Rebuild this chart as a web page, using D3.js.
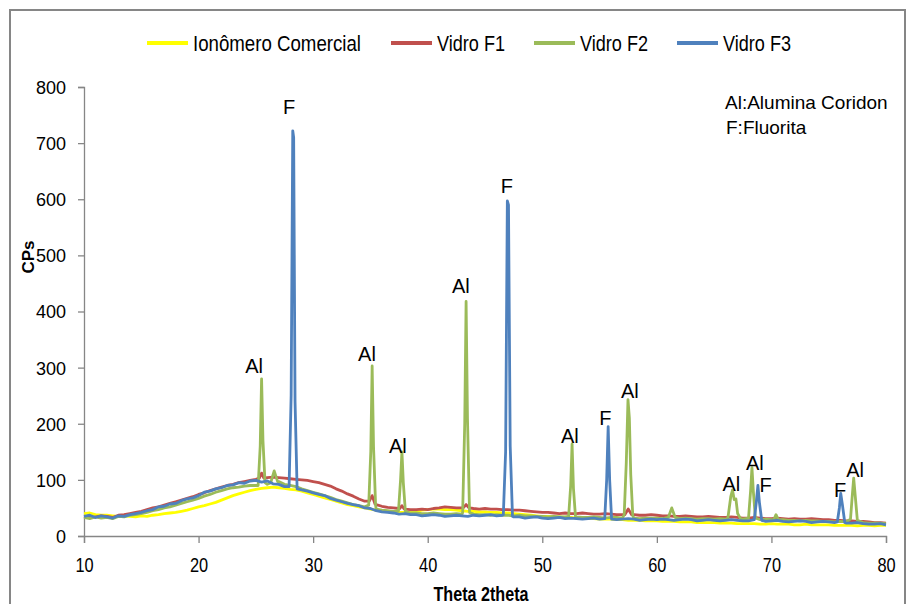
<!DOCTYPE html>
<html>
<head>
<meta charset="utf-8">
<script src="https://cdn.jsdelivr.net/npm/d3@7"></script>
<style>
  body { margin: 0; background: #fff; }
  svg { display: block; }
</style>
</head>
<body>
<div id="viz"></div>
<script>
// XRD patterns: ionomer vs. three glasses (F1, F2, F3)

// scan step of the background data (degrees 2theta)
const theta = d3.range(10, 80.001, 0.5)

// background counts, one value per 0.5 deg from 10 to 80
const ionomero = [
  40,41,38,37,37,36,35,36,35,34,
  36,35,37,38,40,41,42,44,46,49,
  52,54,57,60,64,68,72,75,78,81,
  83,85,86,87,86,85,83,82,80,77,
  74,71,68,65,62,59,56,54,52,50,
  48,46,45,44,43,42,42,43,44,46,
  47,48,48,47,47,46,45,44,44,43,
  43,42,42,41,41,40,39,38,37,36,
  35,35,34,34,33,33,32,32,31,31,
  30,30,30,29,29,28,28,28,27,27,
  27,26,26,26,25,25,25,24,24,24,
  24,23,23,23,22,22,22,22,21,21,
  22,21,21,21,20,20,21,20,20,20,
  20,19,19,19,19,18,19,19,18,19,
  19
]
const vidroF1 = [
  35,33,34,36,35,33,37,38,40,42,
  44,47,50,52,55,58,61,64,67,70,
  74,77,81,84,87,90,92,95,97,99,
  101,103,104,105,104,103,102,101,100,99,
  97,95,92,89,84,80,75,71,66,62,
  59,56,53,51,50,49,48,47,47,48,
  47,49,50,52,51,50,50,49,49,48,
  49,48,48,47,47,46,46,45,44,43,
  42,42,41,40,41,40,40,41,40,39,
  39,40,39,38,38,39,38,37,37,38,
  37,36,36,35,35,36,35,34,34,35,
  34,33,33,34,33,32,32,33,32,31,
  31,32,31,30,31,30,30,31,30,29,
  29,28,28,27,27,26,26,25,24,24,
  23
]
const vidroF2 = [
  33,31,34,32,33,31,35,34,37,38,
  40,42,45,47,50,52,55,58,61,64,
  67,71,74,78,81,84,86,87,89,90,
  90,91,92,96,97,92,90,88,84,81,
  78,75,72,69,65,62,59,56,54,52,
  50,48,46,45,44,43,42,41,41,40,
  40,41,40,39,39,40,39,38,39,38,
  38,37,38,37,37,36,37,36,36,35,
  35,34,35,34,34,33,34,33,33,34,
  33,32,33,33,32,33,32,31,32,32,
  32,31,32,31,31,32,31,30,31,31,
  30,31,30,30,29,30,30,29,29,30,
  29,28,29,28,28,27,28,27,27,26,
  26,25,26,25,25,24,24,23,23,23,
  22
]
const vidroF3 = [
  35,37,33,36,34,32,36,35,38,40,
  42,45,47,52,53,57,58,63,66,68,
  72,78,80,84,86,90,91,95,94,98,
  99,96,98,93,92,88,87,86,82,80,
  77,74,72,67,64,61,58,56,54,50,
  49,45,43,42,41,39,40,38,38,36,
  37,38,37,35,36,37,36,35,37,36,
  37,38,36,37,36,34,34,32,33,34,
  32,31,32,33,31,32,31,30,31,32,
  30,31,30,29,30,31,30,28,29,30,
  29,30,29,28,29,30,29,27,28,29,
  28,27,28,29,28,27,27,28,27,26,
  27,28,26,25,26,27,26,24,25,26,
  25,24,24,23,23,24,22,21,21,22,
  20
]

// reflections, [2theta, cps] points
const peaksF1 = [
  [[25.3,103],[25.5,112],[25.7,103]],
  [[34.9,62],[35.15,72],[35.4,57]],
  [[37.55,49],[37.75,54],[37.95,48]],
  [[43.1,50],[43.35,56],[43.6,50]],
  [[57.2,38],[57.5,48],[57.8,38]]
]
const peaksF2 = [
  [[25.2,90],[25.38,160],[25.5,280],[25.62,170],[25.8,95]],
  [[26.3,95],[26.6,116],[26.9,97]],
  [[34.85,55],[35.03,150],[35.15,303],[35.27,160],[35.45,55]],
  [[37.45,45],[37.63,100],[37.75,150],[37.87,95],[38.05,44]],
  [[43.05,42],[43.23,200],[43.35,418],[43.47,210],[43.65,42]],
  [[52.3,35],[52.48,90],[52.6,164],[52.72,85],[52.9,34]],
  [[57.15,38],[57.33,130],[57.48,243],[57.6,210],[57.72,110],[57.9,36]],
  [[61.0,33],[61.3,50],[61.6,33]],
  [[66.2,32],[66.45,70],[66.6,82],[66.75,65],[66.9,66],[67.05,40],[67.3,31]],
  [[68.0,32],[68.18,80],[68.3,122],[68.42,80],[68.6,32]],
  [[70.2,29],[70.4,38],[70.6,29]],
  [[76.9,30],[77.05,70],[77.18,103],[77.3,75],[77.5,28]]
]
const peaksF3 = [
  [[27.9,88],[28.08,250],[28.22,722],[28.3,710],[28.42,240],[28.6,84]],
  [[46.6,38],[46.8,150],[46.95,597],[47.05,590],[47.2,160],[47.4,35]],
  [[55.45,31],[55.62,100],[55.75,195],[55.88,100],[56.05,30]],
  [[68.5,29],[68.68,60],[68.82,90],[68.95,60],[69.15,28]],
  [[75.75,25],[75.93,50],[76.05,76],[76.2,55],[76.4,24]]
]

const seriesNames = ["Ionômero Comercial", "Vidro F1", "Vidro F2", "Vidro F3"]
const seriesColors = ["#FFFF00", "#C0504D", "#9BBB59", "#4F81BD"]

// phase labels [2theta, cps, text]
const phaseLabels = [
  [24.85, 290, "Al"], [27.9, 752, "F"], [34.7, 312, "Al"], [37.4, 148, "Al"],
  [42.9, 433, "Al"], [46.9, 611, "F"], [52.4, 166, "Al"], [55.5, 198, "F"],
  [57.65, 246, "Al"], [66.5, 80, "Al"], [68.55, 118, "Al"], [69.5, 78, "F"],
  [76.0, 69, "F"], [77.3, 105, "Al"]
]
const noteLines = ["Al:Alumina Coridon", "F:Fluorita"]

const xTicks = [10, 20, 30, 40, 50, 60, 70, 80]
const yTicks = [0, 100, 200, 300, 400, 500, 600, 700, 800]

// put the peaks into the background scan
function buildSeries(base, peaks)
{
  let pts = theta.map((t, i) => [t, base[i]])
  peaks.forEach(pk => {
    let lo = pk[0][0], hi = pk[pk.length - 1][0]
    pts = pts.filter(p => p[0] < lo || p[0] > hi).concat(pk)
  })
  return pts.sort((a, b) => a[0] - b[0])
}

const allSeries = [
  buildSeries(ionomero, []),
  buildSeries(vidroF1, peaksF1),
  buildSeries(vidroF2, peaksF2),
  buildSeries(vidroF3, peaksF3)
]

const W = 908, H = 604
const arial = "'Liberation Sans', Arial, sans-serif"
const axisGray = "#868686"

const svg = d3.select("#viz").append("svg")
  .attr("width", W)
  .attr("height", H)

// outer chart frame
svg.append("rect")
  .attr("x", 10).attr("y", 10)
  .attr("width", 895).attr("height", 610)
  .attr("fill", "none")
  .attr("stroke", axisGray)
  .attr("stroke-width", 2)

const x = d3.scaleLinear().domain([10, 80]).range([84, 886])
const y = d3.scaleLinear().domain([0, 800]).range([536, 87])

// y axis
const yAxis = svg.append("g")
  .attr("transform", "translate(" + x(10) + ",0)")
  .call(d3.axisLeft(y).tickValues(yTicks).tickSize(6).tickPadding(12))
yAxis.selectAll("text")
  .attr("font-family", arial)
  .attr("font-size", 18)
  .attr("fill", "#000")
  .attr("dy", "0.36em")

// x axis, labels squeezed like the narrow font of the original
const xAxis = svg.append("g")
  .attr("transform", "translate(0," + y(0) + ")")
  .call(d3.axisBottom(x).tickValues(xTicks).tickSize(7).tickPadding(14))
xAxis.selectAll("text")
  .attr("font-family", arial)
  .attr("font-size", 21)
  .attr("fill", "#000")
  .attr("transform", "scale(0.78,1)")

svg.selectAll(".domain, .tick line")
  .attr("stroke", axisGray)
  .attr("stroke-width", 1.3)

// axis titles
svg.append("text")
  .attr("transform", "translate(34,257) rotate(-90)")
  .attr("text-anchor", "middle")
  .attr("font-family", arial)
  .attr("font-weight", "bold")
  .attr("font-size", 17)
  .text("CPs")

svg.append("text")
  .attr("transform", "translate(481,601) scale(0.85,1.1)")
  .attr("text-anchor", "middle")
  .attr("font-family", arial)
  .attr("font-weight", "bold")
  .attr("font-size", 19)
  .text("Theta 2theta")

// the four patterns, F3 drawn last so it sits on top
const line = d3.line()
  .x(d => x(d[0]))
  .y(d => y(d[1]))

svg.append("g")
  .selectAll("path")
  .data(allSeries)
  .enter()
  .append("path")
  .attr("d", line)
  .attr("fill", "none")
  .attr("stroke", (d, i) => seriesColors[i])
  .attr("stroke-width", 2.8)
  .attr("stroke-linejoin", "round")

// phase labels over the peaks
svg.append("g")
  .selectAll("text")
  .data(phaseLabels)
  .enter()
  .append("text")
  .attr("x", d => x(d[0]))
  .attr("y", d => y(d[1]))
  .attr("text-anchor", "middle")
  .attr("font-family", arial)
  .attr("font-size", 20)
  .text(d => d[2])

// note in the upper right corner
svg.append("g")
  .selectAll("text")
  .data(noteLines)
  .enter()
  .append("text")
  .attr("x", (d, i) => 725 + i)
  .attr("y", (d, i) => 109 + i * 25)
  .attr("font-family", arial)
  .attr("font-size", 19)
  .text(d => d)

// legend along the top
const legendX = [147, 391, 534, 677]
const legendW = [168, 68, 68, 68]
const legend = svg.append("g")
  .selectAll("g")
  .data(seriesNames)
  .enter()
  .append("g")
  .attr("transform", (d, i) => "translate(" + legendX[i] + ",43)")

legend.append("line")
  .attr("x1", 0).attr("x2", 41)
  .attr("stroke", (d, i) => seriesColors[i])
  .attr("stroke-width", 4)

legend.append("text")
  .attr("x", 46)
  .attr("dy", "0.35em")
  .attr("font-family", arial)
  .attr("font-size", 22)
  .attr("textLength", (d, i) => legendW[i])
  .attr("lengthAdjust", "spacingAndGlyphs")
  .text(d => d)
</script>
</body>
</html>
